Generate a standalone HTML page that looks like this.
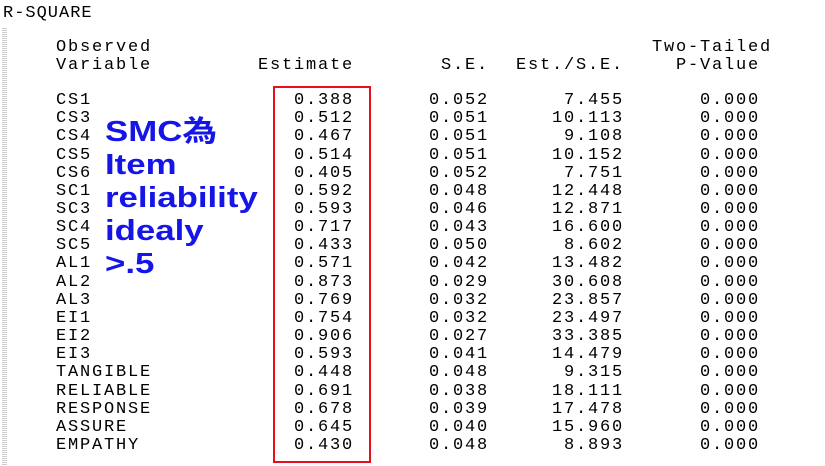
<!DOCTYPE html>
<html><head><meta charset="utf-8">
<style>
body{margin:0;width:825px;height:466px;background:#fff;position:relative;overflow:hidden;font-family:"Liberation Mono",monospace;}
.t{position:absolute;font-size:17px;letter-spacing:1.8px;line-height:18px;color:#000;white-space:pre;}
.r{text-align:right;}
.blue{position:absolute;font-family:"Liberation Sans","Noto Sans CJK TC",sans-serif;font-weight:bold;font-size:29px;color:#1515e8;line-height:33px;left:105px;top:116px;transform:scaleX(1.2);transform-origin:0 0;}
</style></head><body>
<div style="position:absolute;left:2px;top:28px;width:5px;height:438px;background:repeating-linear-gradient(#ccc 0 1px,#fff 1px 2px);"></div>
<div class="t" style="left:3px;top:5px;letter-spacing:1px">R-SQUARE</div>
<div class="t" style="left:56px;top:39px">Observed
Variable</div>
<div class="t r" style="right:471px;top:57px">Estimate</div>
<div class="t r" style="right:336px;top:57px">S.E.</div>
<div class="t r" style="right:201px;top:57px">Est./S.E.</div>
<div class="t r" style="right:53px;top:39px">Two-Tailed
P-Value </div>
<div style="position:absolute;left:273px;top:86px;width:94px;height:373px;border:2px solid #e8101a;"></div>
<div class="blue">SMC為<br>Item<br>reliability<br>idealy<br>&gt;.5</div>
<div id="rows"></div>
<script>
const names=["CS1","CS3","CS4","CS5","CS6","SC1","SC3","SC4","SC5","AL1","AL2","AL3","EI1","EI2","EI3","TANGIBLE","RELIABLE","RESPONSE","ASSURE","EMPATHY"];
const estimates=["0.388","0.512","0.467","0.514","0.405","0.592","0.593","0.717","0.433","0.571","0.873","0.769","0.754","0.906","0.593","0.448","0.691","0.678","0.645","0.430"];
const ses=["0.052","0.051","0.051","0.051","0.052","0.048","0.046","0.043","0.050","0.042","0.029","0.032","0.032","0.027","0.041","0.048","0.038","0.039","0.040","0.048"];
const ratios=["7.455","10.113","9.108","10.152","7.751","12.448","12.871","16.600","8.602","13.482","30.608","23.857","23.497","33.385","14.479","9.315","18.111","17.478","15.960","8.893"];
const pvals=["0.000","0.000","0.000","0.000","0.000","0.000","0.000","0.000","0.000","0.000","0.000","0.000","0.000","0.000","0.000","0.000","0.000","0.000","0.000","0.000"];
const c=document.getElementById('rows');
function cell(txt,name,style,right){
  const d=document.createElement('div');
  d.className='t'+(right?' r':'');
  d.textContent=txt;
  
  
  d.style.cssText=style;
  c.appendChild(d);
}
names.forEach((n,i)=>{
  const top=(92+i*18.16).toFixed(1)+'px';
  cell(n,'variable-'+n.toLowerCase(),'left:56px;top:'+top,false);
  cell(estimates[i],'estimate-'+n.toLowerCase(),'right:471px;top:'+top,true);
  cell(ses[i],'se-'+n.toLowerCase(),'right:336px;top:'+top,true);
  cell(ratios[i],'est-se-'+n.toLowerCase(),'right:201px;top:'+top,true);
  cell(pvals[i],'pvalue-'+n.toLowerCase(),'right:65px;top:'+top,true);
});
</script>
</body></html>
